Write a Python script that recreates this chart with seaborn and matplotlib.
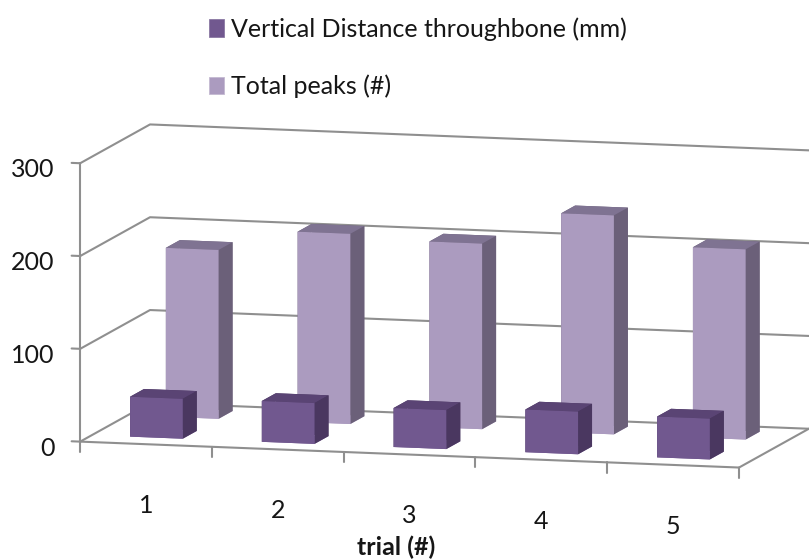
import matplotlib
matplotlib.use("Agg")
import matplotlib.pyplot as plt
from matplotlib.patches import Patch
import numpy as np
import seaborn as sns

trials = ["1", "2", "3", "4", "5"]
vertical_distance = [43, 44, 42, 46, 44]
total_peaks = [182, 205, 200, 236, 205]
series_names = ["Vertical Distance throughbone (mm)", "Total peaks (#)"]
value_ticks = [0, 100, 200, 300]
axis_title = "trial (#)"

sns.set_theme(style="white")
plt.rcParams["font.family"] = ["Lato", "DejaVu Sans"]

# front, side and top shades of each series
DARK = ("#71588f", "#4a3760", "#5a4474")
LIGHT = ("#ab9bbf", "#6b6079", "#7f7392")
GRID = "#8f8f8f"
TEXT = "#161616"
FONT_SIZE = 18


def face_colors(shades, n):
    front, side, top = shades
    # bar3d face order: bottom, top, front, back, left, right
    return [front, top, front, side, side, side] * n


# a square axes larger than the figure keeps the long back wall from being
# clipped before the figure edge
fig = plt.figure(figsize=(8.09, 5.6), dpi=100)
ax = fig.add_axes([(431 - 500) / 809, (250.5 - 500) / 560, 1000 / 809, 1000 / 560],
                  projection="3d", computed_zorder=False)
ax.set_proj_type("ortho")
ax.view_init(elev=8.5, azim=-75.1)
ax.set_box_aspect((683, 272, 282), zoom=0.763)
ax.set_xlim(0, 5)
ax.set_ylim(0, 1)
ax.set_zlim(0, 300)
ax.set_xticks([])
ax.set_yticks([])
ax.set_zticks([])
ax.set_axis_off()
ax.patch.set_alpha(0)

line = dict(color=GRID, lw=1.5, solid_capstyle="round", zorder=1)

# walls: left side plus back side at each gridline level
for v in value_ticks:
    ax.plot([0, 0, 5.3], [0, 1, 1], [v, v, v], **line)
    ax.plot([-0.065, 0], [0, 0], [v, v], **line)
    ax.text(-0.195, 0, v - 8, str(v), ha="right", va="center",
            fontsize=FONT_SIZE, color=TEXT)

# floor outline and value axis
ax.plot([0, 5], [0, 0], [0, 0], **line)
ax.plot([5, 5], [0, 1], [0, 0], **line)
ax.plot([0, 0], [0, 0], [0, 300], **line)

# category ticks and labels under the front edge
for i in range(len(trials) + 1):
    ax.plot([i, i], [0, 0], [0, -11], **line)
for i, label in enumerate(trials):
    ax.text(i + 0.5, 0, -66, label, ha="center", va="center",
            fontsize=FONT_SIZE, color=TEXT)

pos = np.arange(len(trials)) + 0.29
width = 0.4
depth = 0.2

ax.bar3d(pos, np.full(5, 0.68), np.zeros(5), width, depth, total_peaks,
         color=face_colors(LIGHT, 5), shade=False, linewidth=0, zorder=2)
ax.bar3d(pos, np.full(5, 0.167), np.zeros(5), width, depth, vertical_distance,
         color=face_colors(DARK, 5), shade=False, linewidth=0, zorder=3)

handles = [Patch(facecolor=DARK[0], edgecolor="#8a78a3", lw=0.6),
           Patch(facecolor=LIGHT[0], edgecolor="#c4b9d2", lw=0.6)]
fig.legend(handles, series_names, loc="upper left",
           bbox_to_anchor=(209 / 809, 1 - 17 / 560), frameon=False,
           fontsize=FONT_SIZE, labelcolor=TEXT, borderpad=0, borderaxespad=0,
           handlelength=0.6, handleheight=0.72, handletextpad=0.28,
           labelspacing=1.36)

fig.text(396 / 809, 1 - 547 / 560, axis_title, ha="center", va="center",
         fontsize=18, fontweight="bold", color=TEXT)

fig.savefig("out.png", dpi=100)
